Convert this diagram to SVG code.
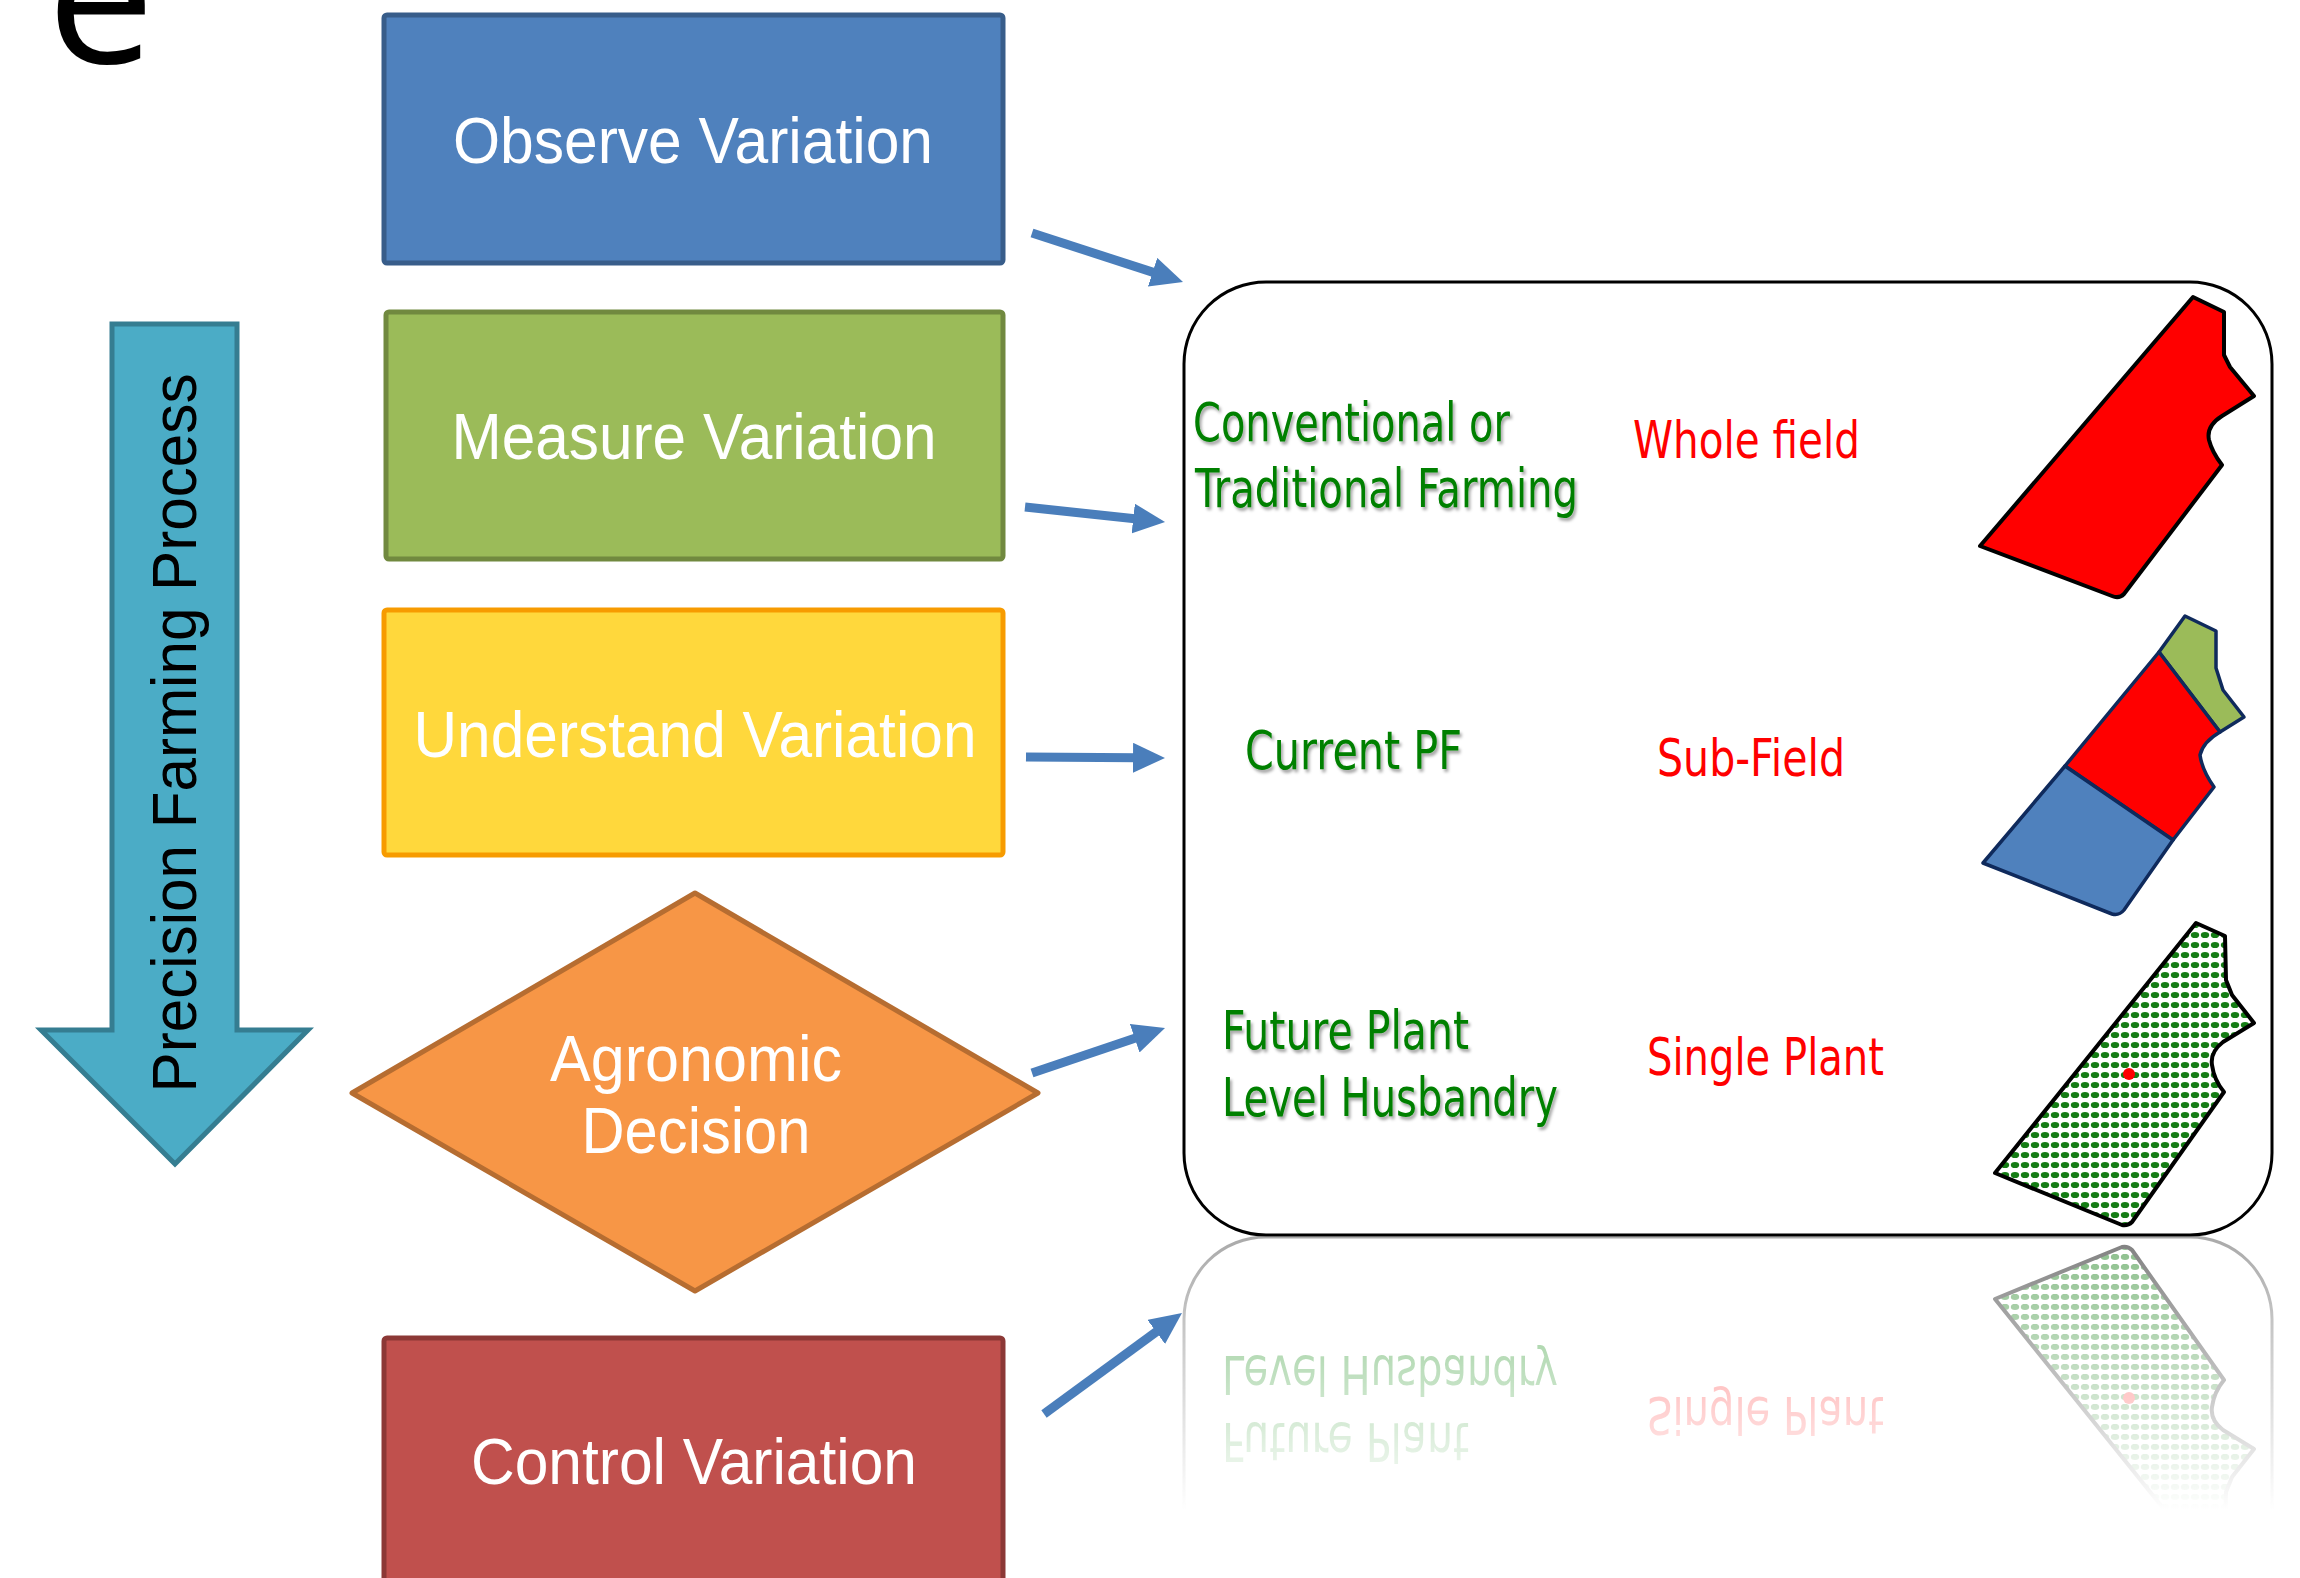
<svg xmlns="http://www.w3.org/2000/svg" xmlns:xlink="http://www.w3.org/1999/xlink" width="2300" height="1578" viewBox="0 0 2300 1578">
<style>
.box{stroke-width:5;}
.wt{font-family:"Liberation Sans",Arial,sans-serif;font-size:64px;fill:#ffffff;text-anchor:middle;}
.gt{font-family:"DejaVu Sans",Verdana,sans-serif;font-size:53px;fill:#008000;}
.rt{font-family:"DejaVu Sans",Verdana,sans-serif;font-size:51px;fill:#ff0000;}
.conn{stroke:#4a7ebb;stroke-width:9;fill:none;marker-end:url(#ah);}
</style>
<defs>
<marker id="ah" markerUnits="userSpaceOnUse" markerWidth="34" markerHeight="30" viewBox="0 0 34 30" refX="4" refY="15" orient="auto">
<path d="M0,0 L32,15 L0,30 Z" fill="#4a7ebb"/>
</marker>
<filter id="sh" x="-5%" y="-20%" width="110%" height="150%">
<feDropShadow dx="2" dy="3" stdDeviation="1.5" flood-color="#000" flood-opacity="0.35"/>
</filter>
<pattern id="dots" patternUnits="userSpaceOnUse" width="10" height="10">
<rect width="10" height="10" fill="#ffffff"/>
<ellipse cx="5" cy="5" rx="4.2" ry="3.1" fill="#157d15"/>
</pattern>
<linearGradient id="fadeGrad" gradientUnits="userSpaceOnUse" x1="0" y1="1238" x2="0" y2="1510">
<stop offset="0" stop-color="#fff" stop-opacity="0.5"/>
<stop offset="1" stop-color="#fff" stop-opacity="0"/>
</linearGradient>
<mask id="fade" maskUnits="userSpaceOnUse" x="1100" y="1236" width="1200" height="342">
<rect x="1100" y="1236" width="1200" height="342" fill="url(#fadeGrad)"/>
</mask>
<path id="f3" d="M1995,1173 L2196,923 L2225,936 L2226,980 L2232,995 L2254,1023 L2223,1042 Q2210,1052 2212,1065 Q2214,1080 2224,1092 L2132,1222 Q2128,1226 2122,1225 Z"/>
</defs>

<text x="47" y="63" font-family="Open Sans, sans-serif" font-size="192" fill="#000">e</text>

<g id="process-arrow">
<path d="M112,324 L237,324 L237,1030 L308,1030 L175,1164 L41,1030 L112,1030 Z" fill="#4bacc6" stroke="#357d91" stroke-width="5" stroke-linejoin="miter"/>
<text x="0" y="0" transform="translate(196,733) rotate(-90)" font-family="Liberation Sans, Arial, sans-serif" font-size="63" fill="#000" text-anchor="middle" textLength="719" lengthAdjust="spacingAndGlyphs">Precision Farming Process</text>
</g>

<g id="observe">
<rect class="box" x="384" y="15" width="619" height="248" rx="3" fill="#4f81bd" stroke="#385d8a"/>
<text class="wt" x="693" y="163" textLength="480" lengthAdjust="spacingAndGlyphs">Observe Variation</text>
</g>
<g id="measure">
<rect class="box" x="386" y="312" width="617" height="247" rx="3" fill="#9bbb59" stroke="#71893f"/>
<text class="wt" x="694" y="459" textLength="485" lengthAdjust="spacingAndGlyphs">Measure Variation</text>
</g>
<g id="understand">
<rect class="box" x="384" y="610" width="619" height="245" rx="3" fill="#ffd83c" stroke="#f79b00"/>
<text class="wt" x="695" y="757" textLength="563" lengthAdjust="spacingAndGlyphs">Understand Variation</text>
</g>
<g id="decision">
<path d="M352,1093 L695,893 L1038,1093 L695,1291 Z" fill="#f79646" stroke="#b66d31" stroke-width="5" stroke-linejoin="round"/>
<text class="wt" x="696" y="1081" textLength="292" lengthAdjust="spacingAndGlyphs">Agronomic</text>
<text class="wt" x="696" y="1153" textLength="229" lengthAdjust="spacingAndGlyphs">Decision</text>
</g>
<g id="control">
<rect class="box" x="384" y="1338" width="619" height="270" rx="3" fill="#c0504d" stroke="#8c3836"/>
<text class="wt" x="694" y="1484" textLength="446" lengthAdjust="spacingAndGlyphs">Control Variation</text>
</g>

<g id="connectors">
<line class="conn" x1="1032" y1="233" x2="1156.4" y2="273.4"/>
<line class="conn" x1="1025" y1="507" x2="1137.2" y2="519"/>
<line class="conn" x1="1026" y1="757" x2="1137" y2="757.8"/>
<line class="conn" x1="1032" y1="1073" x2="1138.5" y2="1037"/>
<line class="conn" x1="1044" y1="1414" x2="1159.4" y2="1329.5"/>
</g>

<g id="levels">
<rect x="1184" y="282" width="1088" height="953" rx="82" ry="82" fill="#ffffff" stroke="#000" stroke-width="3"/>
<text class="gt" x="1193" y="441" textLength="317" lengthAdjust="spacingAndGlyphs" filter="url(#sh)">Conventional or</text>
<text class="gt" x="1195" y="507" textLength="383" lengthAdjust="spacingAndGlyphs" filter="url(#sh)">Traditional Farming</text>
<text class="rt" x="1633" y="458" textLength="227" lengthAdjust="spacingAndGlyphs">Whole field</text>
<text class="gt" x="1245" y="769" textLength="217" lengthAdjust="spacingAndGlyphs" filter="url(#sh)">Current PF</text>
<text class="rt" x="1657" y="776" textLength="188" lengthAdjust="spacingAndGlyphs">Sub-Field</text>
<text class="gt" x="1222" y="1049" textLength="247" lengthAdjust="spacingAndGlyphs" filter="url(#sh)">Future Plant</text>
<text class="gt" x="1222" y="1116" textLength="336" lengthAdjust="spacingAndGlyphs" filter="url(#sh)">Level Husbandry</text>
<text class="rt" x="1647" y="1075" textLength="237" lengthAdjust="spacingAndGlyphs">Single Plant</text>

<path d="M1980,546 L2193,297 L2224,312 L2224,355 L2230,367 L2254,396 L2222,416 Q2206,426 2209,440 Q2212,452 2222,465 L2124,594 Q2119,599 2112,596 Z" fill="#ff0000" stroke="#000" stroke-width="4" stroke-linejoin="round"/>

<g stroke="#0f2a5c" stroke-width="3.5" stroke-linejoin="round">
<path d="M2185,616 L2216,631 L2216,668 L2223,690 L2244,717 L2220,732 L2159,652 Z" fill="#9bbb59"/>
<path d="M2159,652 L2220,732 Q2203,742 2200,755 Q2202,770 2214,787 L2173,840 L2065,766 Z" fill="#ff0000"/>
<path d="M2065,766 L2173,840 L2124,910 Q2119,916 2112,914 L1983,863 Z" fill="#4f81bd"/>
</g>

<use xlink:href="#f3" fill="url(#dots)" stroke="#000" stroke-width="4" stroke-linejoin="round"/>
<circle cx="2129" cy="1074" r="6" fill="#ff0000"/>
</g>

<g id="reflection" mask="url(#fade)">
<g transform="matrix(1,0,0,-1,0,2472)">
<rect x="1184" y="282" width="1088" height="953" rx="82" ry="82" fill="none" stroke="#555" stroke-width="3"/>
<text class="gt" x="1222" y="1049" textLength="247" lengthAdjust="spacingAndGlyphs">Future Plant</text>
<text class="gt" x="1222" y="1116" textLength="336" lengthAdjust="spacingAndGlyphs">Level Husbandry</text>
<text class="rt" x="1647" y="1075" textLength="237" lengthAdjust="spacingAndGlyphs">Single Plant</text>
<use xlink:href="#f3" fill="url(#dots)" stroke="#000" stroke-width="4" stroke-linejoin="round"/>
<circle cx="2129" cy="1074" r="6" fill="#ff0000"/>
</g>
</g>
</svg>
